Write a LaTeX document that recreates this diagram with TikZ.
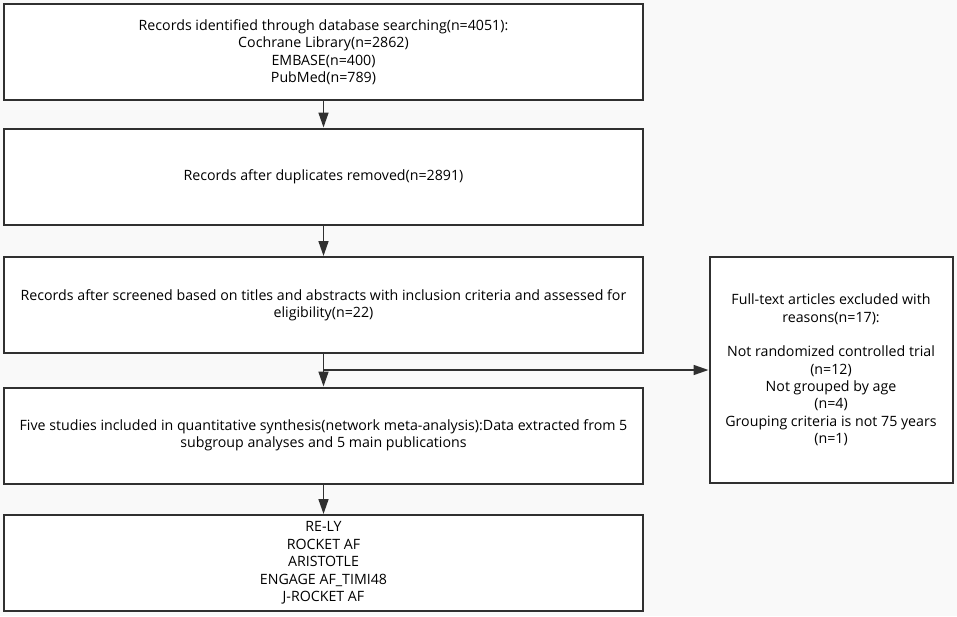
\documentclass[tikz,border=0pt]{standalone}
\usepackage{fontspec}
\setmainfont{Open Sans}
\usetikzlibrary{arrows.meta}
\definecolor{edge}{HTML}{303030}
\definecolor{paper}{HTML}{F9F9F9}

\begin{document}
\begin{tikzpicture}[
    x=1pt, y=-1pt,
    every node/.style={
      font=\fontsize{14.2}{17.4}\selectfont, align=center, inner sep=0pt,
    },
    box/.style={
      draw=edge, line width=2pt, fill=white,
      minimum width=639pt, minimum height=96pt
    },
    side/.style={
      box, minimum width=243pt, minimum height=226pt
    },
    link/.style={
      draw=edge, line width=1.6pt, -{Triangle[length=15pt,width=10pt]}
    }
    ]
  \fill[paper] (0,0) rectangle (957,616);
  \node[box] (n0) at (323.5,52) {Records identified through database searching(n=4051):\\
    Cochrane Library(n=2862)\\ EMBASE(n=400)\\ PubMed(n=789)};
  \node[box] (n1) at (323.5,176.5) {Records after duplicates removed(n=2891)};
  \node[box] (n2) at (323.5,305) {Records after screened based on titles and abstracts with inclusion criteria and assessed for\\
    eligibility(n=22)};
  \node[box] (n3) at (323.5,435.5) {Five studies included in quantitative synthesis(network meta-analysis):Data extracted from 5\\
    subgroup analyses and 5 main publications};
  \node[box] (n4) at (323.5,563) {RE-LY\\ ROCKET AF\\ ARISTOTLE\\ ENGAGE AF\_TIMI48\\ J-ROCKET AF};
  \node[side] (m0) at (831,370) {Full-text articles excluded with\\ reasons(n=17):\\[17pt]
    Not randomized controlled trial\\ (n=12)\\ Not grouped by age\\ (n=4)\\
    Grouping criteria is not 75 years\\ (n=1)};

  \draw[link] (n0) -- (n1);
  \draw[link] (n1) -- (n2);
  \draw[link] (n2) -- (n3);
  \draw[link] (n3) -- (n4);
  \draw[link] (n2.south |- m0.west) -- (m0.west);
\end{tikzpicture}
\end{document}
